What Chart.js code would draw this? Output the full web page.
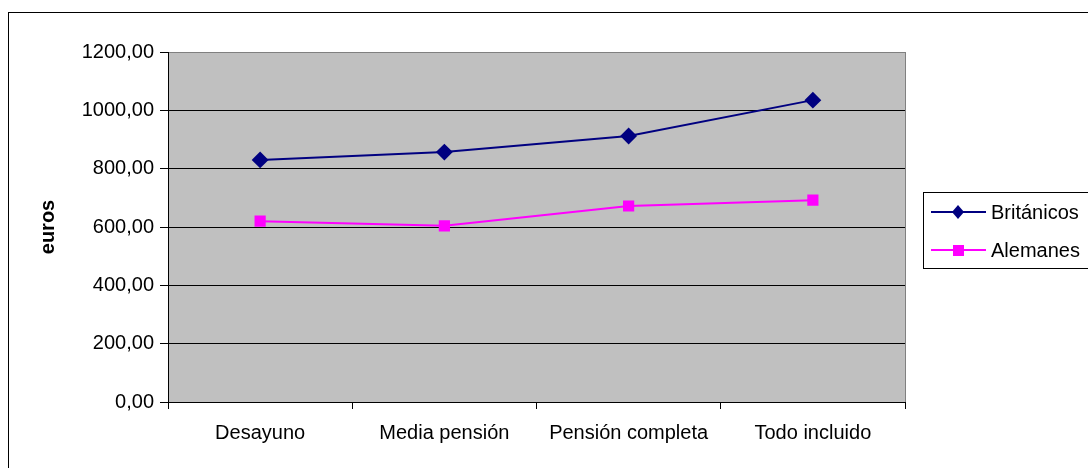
<!DOCTYPE html>
<html>
<head>
<meta charset="utf-8">
<script src="https://cdn.jsdelivr.net/npm/chart.js"></script>
<style>
    html, body { margin: 0; padding: 0; background: #fff; }
    #wrap { width: 1088px; height: 468px; position: relative; }
</style>
</head>
<body>
<div id="wrap"><canvas id="chart" width="1088" height="468"></canvas></div>
<script>
// --- Data ---
const categories = ['Desayuno', 'Media pensión', 'Pensión completa', 'Todo incluido'];
const britanicos = [830, 857, 912, 1035];
const alemanes = [620, 604, 672, 692];
const seriesNames = ['Británicos', 'Alemanes'];
const yTicks = [0, 200, 400, 600, 800, 1000, 1200];

const FONT = "'Liberation Sans', Arial, sans-serif";

// Grey plot area + outer frame
const backdrop = {
    id: 'backdrop',
    beforeDraw(chart) {
        const { ctx, chartArea: a } = chart;
        ctx.save();
        ctx.strokeStyle = '#000';
        ctx.lineWidth = 1;
        ctx.strokeRect(8.5, 12.5, 1100, 500);
        ctx.fillStyle = '#c0c0c0';
        ctx.fillRect(a.left, a.top, a.right - a.left, a.bottom - a.top);
        ctx.strokeStyle = '#808080';
        ctx.strokeRect(a.left + 0.5, a.top + 0.5, a.right - a.left, a.bottom - a.top);
        ctx.restore();
    }
};

// Boxed legend with line + marker, like the spreadsheet one
const boxLegend = {
    id: 'boxLegend',
    afterDraw(chart) {
        const { ctx } = chart;
        ctx.save();
        ctx.strokeStyle = '#000';
        ctx.lineWidth = 1;
        ctx.fillStyle = '#fff';
        ctx.fillRect(923.5, 192.5, 170, 76);
        ctx.strokeRect(923.5, 192.5, 170, 76);
        chart.data.datasets.forEach((ds, i) => {
            const y = 212 + i * 38;
            ctx.strokeStyle = ds.borderColor;
            ctx.lineWidth = 2;
            ctx.beginPath();
            ctx.moveTo(931, y);
            ctx.lineTo(986, y);
            ctx.stroke();
            ctx.fillStyle = ds.pointBackgroundColor;
            ctx.beginPath();
            if (ds.pointStyle === 'rectRot') {
                ctx.moveTo(958, y - 7); ctx.lineTo(964, y); ctx.lineTo(958, y + 7); ctx.lineTo(952, y);
            } else {
                ctx.rect(953, y - 5, 11, 11);
            }
            ctx.closePath();
            ctx.fill();
            ctx.fillStyle = '#000';
            ctx.font = '20px ' + FONT;
            ctx.textBaseline = 'middle';
            ctx.fillText(ds.label, 991, y + 1);
        });
        ctx.restore();
    }
};

new Chart(document.getElementById('chart'), {
    type: 'line',
    data: {
        labels: categories,
        datasets: [{
            label: seriesNames[0],
            data: britanicos,
            borderColor: '#000080',
            backgroundColor: '#000080',
            pointBackgroundColor: '#000080',
            pointBorderColor: '#000080',
            pointStyle: 'rectRot',
            pointRadius: 7,
            borderWidth: 2,
            tension: 0
        }, {
            label: seriesNames[1],
            data: alemanes,
            borderColor: '#ff00ff',
            backgroundColor: '#ff00ff',
            pointBackgroundColor: '#ff00ff',
            pointBorderColor: '#ff00ff',
            pointStyle: 'rect',
            pointRadius: 6.5,
            borderWidth: 2,
            tension: 0
        }]
    },
    options: {
        responsive: false,
        animation: false,
        layout: { padding: { left: 0, top: 52, right: 183, bottom: 0 } },
        plugins: { legend: { display: false }, tooltip: { enabled: false } },
        scales: {
            x: {
                offset: true,
                grid: { offset: true, drawOnChartArea: false, drawTicks: true, tickLength: 7, color: '#000' },
                border: { color: '#000', width: 1 },
                ticks: { color: '#000', font: { family: FONT, size: 20 }, padding: 12, maxRotation: 0 },
                afterFit: s => { s.height = 66; }
            },
            y: {
                min: 0,
                max: 1200,
                afterBuildTicks: s => { s.ticks = yTicks.map(v => ({ value: v })); },
                grid: {
                    color: c => (c.tick && c.tick.value === 1200) ? '#808080' : '#000',
                    tickColor: '#000',
                    tickLength: 8,
                    lineWidth: 1
                },
                border: { color: '#000', width: 1 },
                ticks: {
                    color: '#000',
                    font: { family: FONT, size: 20 },
                    padding: 6,
                    callback: v => v.toFixed(2).replace('.', ',')
                },
                title: {
                    display: true,
                    text: 'euros',
                    color: '#000',
                    font: { family: FONT, size: 20, weight: 'bold' },
                    padding: { top: 36, bottom: 0 }
                },
                afterFit: s => { s.width = 168; }
            }
        }
    },
    plugins: [backdrop, boxLegend]
});
</script>
</body>
</html>
